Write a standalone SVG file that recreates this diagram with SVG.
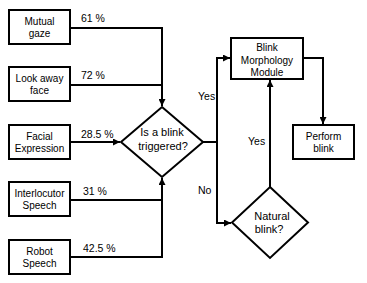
<svg xmlns="http://www.w3.org/2000/svg" width="367" height="283" viewBox="0 0 367 283">
<defs>
<marker id="arr" viewBox="0 0 8 8" refX="8" refY="4" markerWidth="7" markerHeight="7" markerUnits="userSpaceOnUse" orient="auto">
<path d="M0,0 L8,4 L0,8 Z" fill="#000"/>
</marker>
<style>
.box{fill:#fff;stroke:#000;stroke-width:2}
.t{font-family:"Liberation Sans",Arial,sans-serif;font-size:10px;fill:#000;text-anchor:middle}
.d{font-family:"Liberation Sans",Arial,sans-serif;font-size:11px;fill:#000;text-anchor:middle}
.l{font-family:"Liberation Sans",Arial,sans-serif;font-size:10.5px;fill:#000}
.c{fill:none;stroke:#000;stroke-width:2}
</style>
</defs>
<rect width="367" height="283" fill="#fff"/>
<g id="connectors">
<path class="c" d="M70,28 H162 V106" marker-end="url(#arr)"/>
<path class="c" d="M70,85 H162"/>
<path class="c" d="M70,142 H120" marker-end="url(#arr)"/>
<path class="c" d="M70,200 H162"/>
<path class="c" d="M70,257 H162 V178" marker-end="url(#arr)"/>
<path class="c" d="M203,142 H217"/>
<path class="c" d="M217,142 V58 H230" marker-end="url(#arr)"/>
<path class="c" d="M217,142 V223 H231" marker-end="url(#arr)"/>
<path class="c" d="M303,58 H323 V124" marker-end="url(#arr)"/>
<path class="c" d="M270,187 V80" marker-end="url(#arr)"/>
<text class="l" x="81" y="22">61 %</text>
<text class="l" x="81" y="79">72 %</text>
<text class="l" x="81" y="138">28.5 %</text>
<text class="l" x="83" y="195">31 %</text>
<text class="l" x="83" y="252">42.5 %</text>
<text class="l" x="198" y="100">Yes</text>
<text class="l" x="198" y="194">No</text>
<text class="l" x="248" y="145">Yes</text>
</g>
<g id="mutual-gaze">
<rect class="box" x="9" y="10" width="61" height="34"/>
<text class="t" x="39.5" y="24.5">Mutual</text>
<text class="t" x="39.5" y="37">gaze</text>
</g>
<g id="look-away-face">
<rect class="box" x="9" y="67" width="61" height="34"/>
<text class="t" x="39.5" y="81.5">Look away</text>
<text class="t" x="39.5" y="94">face</text>
</g>
<g id="facial-expression">
<rect class="box" x="9" y="125" width="61" height="34"/>
<text class="t" x="39.5" y="139.5">Facial</text>
<text class="t" x="39.5" y="152">Expression</text>
</g>
<g id="interlocutor-speech">
<rect class="box" x="9" y="182" width="61" height="34"/>
<text class="t" x="39.5" y="196.5">Interlocutor</text>
<text class="t" x="39.5" y="209">Speech</text>
</g>
<g id="robot-speech">
<rect class="box" x="9" y="240" width="61" height="34"/>
<text class="t" x="39.5" y="254.5">Robot</text>
<text class="t" x="39.5" y="267">Speech</text>
</g>
<g id="is-blink-triggered">
<polygon class="box" points="162,107 203,142 162,177 121,142"/>
<text class="d" x="162" y="136">Is a blink</text>
<text class="d" x="163" y="150">triggered?</text>
</g>
<g id="blink-morphology-module">
<rect class="box" x="231" y="38" width="72" height="41"/>
<text class="t" x="267" y="51">Blink</text>
<text class="t" x="267" y="63.5">Morphology</text>
<text class="t" x="267" y="76">Module</text>
</g>
<g id="perform-blink">
<rect class="box" x="293" y="125" width="61" height="34"/>
<text class="t" x="323.5" y="139.5">Perform</text>
<text class="t" x="323.5" y="152">blink</text>
</g>
<g id="natural-blink">
<polygon class="box" points="270,187 308,222.5 270,258 232,222.5"/>
<text class="d" x="272" y="220">Natural</text>
<text class="d" x="269" y="233">blink?</text>
</g>
</svg>
